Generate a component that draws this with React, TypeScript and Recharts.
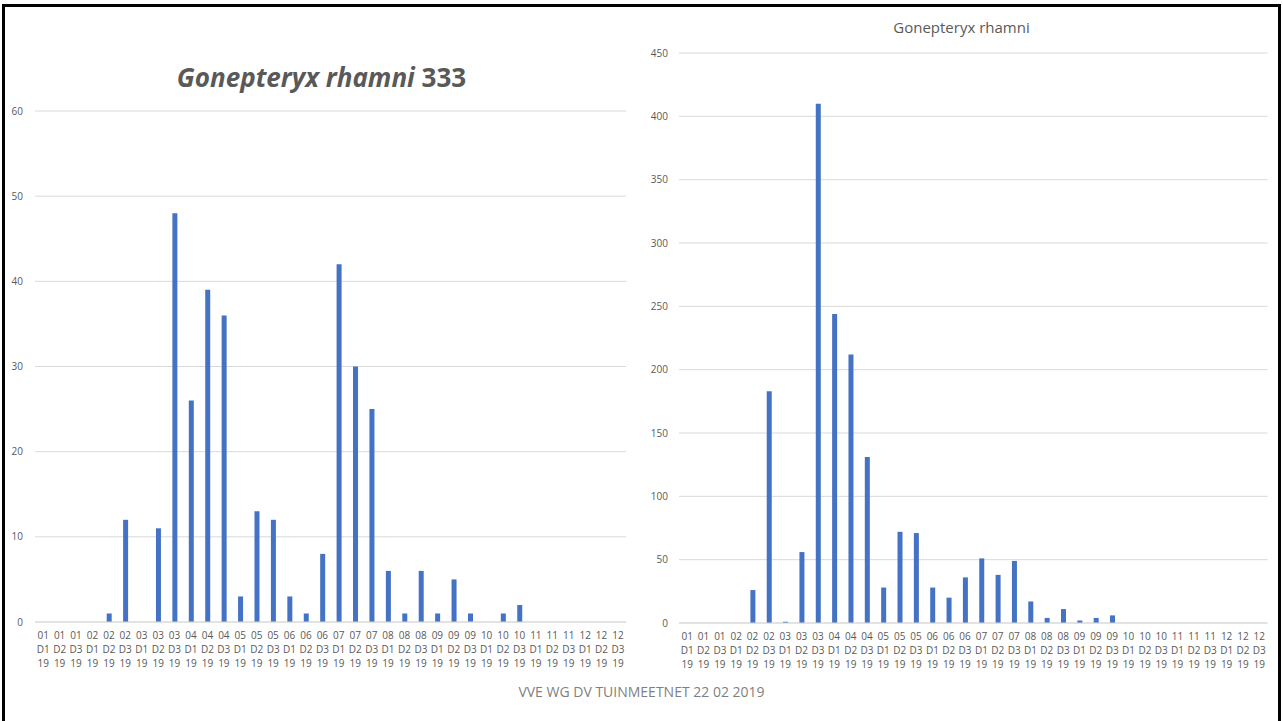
import React from 'react';
import { BarChart, Bar, XAxis, YAxis, CartesianGrid } from 'recharts';

const categories = [
  '01 D1 19', '01 D2 19', '01 D3 19',
  '02 D1 19', '02 D2 19', '02 D3 19',
  '03 D1 19', '03 D2 19', '03 D3 19',
  '04 D1 19', '04 D2 19', '04 D3 19',
  '05 D1 19', '05 D2 19', '05 D3 19',
  '06 D1 19', '06 D2 19', '06 D3 19',
  '07 D1 19', '07 D2 19', '07 D3 19',
  '08 D1 19', '08 D2 19', '08 D3 19',
  '09 D1 19', '09 D2 19', '09 D3 19',
  '10 D1 19', '10 D2 19', '10 D3 19',
  '11 D1 19', '11 D2 19', '11 D3 19',
  '12 D1 19', '12 D2 19', '12 D3 19',
];

const leftValues = [
  0, 0, 0,
  0, 1, 12,
  0, 11, 48,
  26, 39, 36,
  3, 13, 12,
  3, 1, 8,
  42, 30, 25,
  6, 1, 6,
  1, 5, 1,
  0, 1, 2,
  0, 0, 0,
  0, 0, 0,
];

const rightValues = [
  0, 0, 0,
  0, 26, 183,
  1, 56, 410,
  244, 212, 131,
  28, 72, 71,
  28, 20, 36,
  51, 38, 49,
  17, 4, 11,
  2, 4, 6,
  0, 0, 0,
  0, 0, 0,
  0, 0, 0,
];

const leftTicks = [0, 10, 20, 30, 40, 50, 60];
const rightTicks = [0, 50, 100, 150, 200, 250, 300, 350, 400, 450];

const leftTitleItalic = 'Gonepteryx rhamni';
const leftTitleCount = '333';
const rightTitle = 'Gonepteryx rhamni';
const footer = 'VVE WG DV TUINMEETNET 22 02 2019';

const leftData = categories.map((c, i) => ({ cat: c, v: leftValues[i] }));
const rightData = categories.map((c, i) => ({ cat: c, v: rightValues[i] }));

const FONT = '"Open Sans", sans-serif';
const TEXT = '#595959';
const GRID = '#d9d9d9';
const BAR = '#4472C4';

const ThreeLineTick = (props: any) => {
  const { x, y, payload } = props;
  const parts = String(payload.value).split(' ');
  return (
    <text x={x} y={y} textAnchor="middle" fill={TEXT} fontSize={10} fontFamily={FONT}>
      <tspan x={x} dy="0.85em">{parts[0]}</tspan>
      <tspan x={x} dy="1.45em">{parts[1]}</tspan>
      <tspan x={x} dy="1.35em">{parts[2]}</tspan>
    </text>
  );
};

export default function App() {
  return (
    <div
      style={{
        position: 'absolute',
        left: 0,
        top: 0,
        width: 1283,
        height: 721,
        background: '#ffffff',
        overflow: 'hidden',
        fontFamily: FONT,
      }}
    >
      <div
        style={{
          position: 'absolute',
          left: 2,
          top: 4,
          width: 1273,
          height: 730,
          borderTop: '3px solid #000',
          borderLeft: '3px solid #000',
          borderRight: '3px solid #000',
        }}
      />

      <div style={{ position: 'absolute', left: 0, top: 0 }}>
        <BarChart
          width={640}
          height={700}
          data={leftData}
          margin={{ top: 111, right: 13.8, left: 0, bottom: 18 }}
          barCategoryGap={0}
        >
          <CartesianGrid vertical={false} stroke={GRID} />
          <XAxis
            dataKey="cat"
            interval={0}
            height={60}
            tickLine={false}
            axisLine={{ stroke: GRID }}
            tick={<ThreeLineTick />}
          />
          <YAxis
            width={35}
            domain={[0, 60]}
            ticks={leftTicks}
            tickLine={false}
            axisLine={false}
            tickMargin={6}
            tick={{ fill: TEXT, fontSize: 10, fontFamily: FONT }}
          />
          <Bar dataKey="v" fill={BAR} barSize={5} isAnimationActive={false} />
        </BarChart>
      </div>

      <div style={{ position: 'absolute', left: 640, top: 0 }}>
        <BarChart
          width={640}
          height={700}
          data={rightData}
          margin={{ top: 53, right: 12.5, left: 0, bottom: 17 }}
          barCategoryGap={0}
        >
          <CartesianGrid vertical={false} stroke={GRID} />
          <XAxis
            dataKey="cat"
            interval={0}
            height={60}
            tickLine={false}
            axisLine={{ stroke: GRID }}
            tick={<ThreeLineTick />}
          />
          <YAxis
            width={39}
            domain={[0, 450]}
            ticks={rightTicks}
            tickLine={false}
            axisLine={false}
            tickMargin={5}
            tick={{ fill: TEXT, fontSize: 10, fontFamily: FONT }}
          />
          <Bar dataKey="v" fill={BAR} barSize={5} isAnimationActive={false} />
        </BarChart>
      </div>

      <div
        style={{
          position: 'absolute',
          left: 0,
          width: 643,
          top: 59,
          textAlign: 'center',
          color: TEXT,
          fontSize: 26,
          fontWeight: 700,
          lineHeight: '36px',
          whiteSpace: 'nowrap',
        }}
      >
        <span style={{ fontStyle: 'italic' }}>{leftTitleItalic}</span> {leftTitleCount}
      </div>

      <div
        style={{
          position: 'absolute',
          left: 640,
          width: 643,
          top: 16,
          textAlign: 'center',
          color: TEXT,
          fontSize: 15,
          lineHeight: '22px',
          whiteSpace: 'nowrap',
        }}
      >
        {rightTitle}
      </div>

      <div
        style={{
          position: 'absolute',
          left: 0,
          width: 1283,
          top: 681,
          textAlign: 'center',
          color: '#7f7f7f',
          fontSize: 14,
          lineHeight: '22px',
          whiteSpace: 'nowrap',
        }}
      >
        {footer}
      </div>
    </div>
  );
}
